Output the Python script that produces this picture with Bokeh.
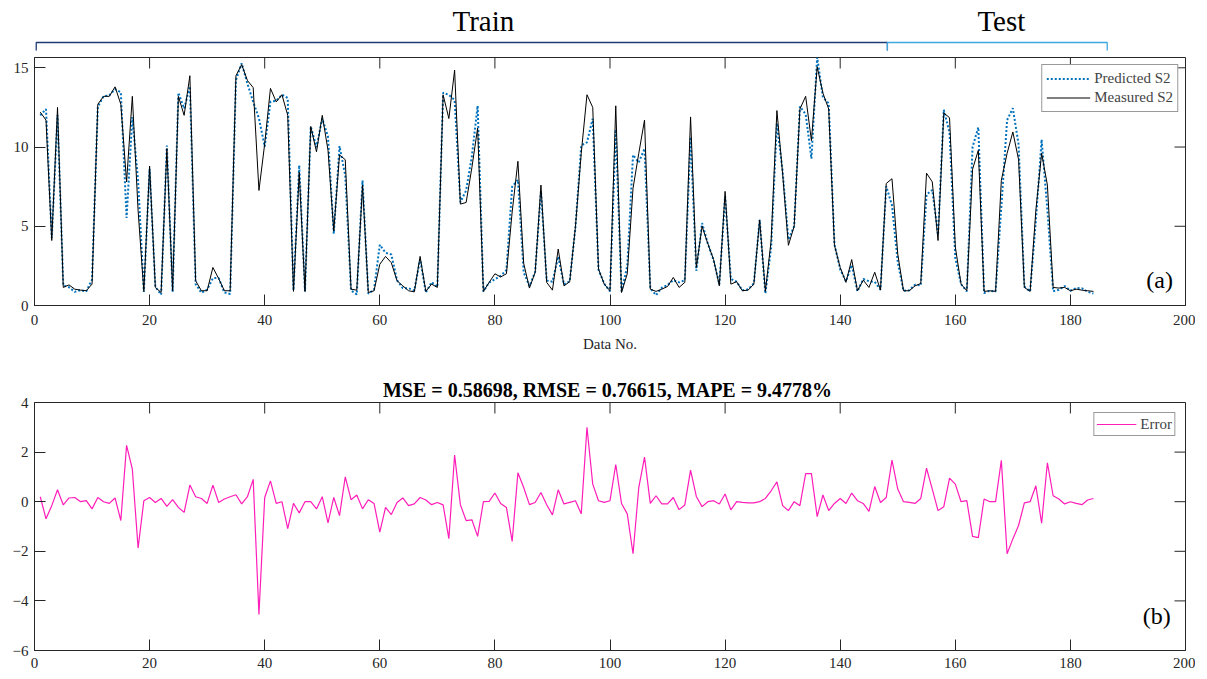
import math
from bokeh.plotting import figure
from bokeh.models import Range1d, FixedTicker, Label
from bokeh.layouts import column
from bokeh.embed import file_html
from bokeh.resources import INLINE
from bokeh.core.properties import value

# ---------------- data ----------------
data_no = list(range(1, 185))

measured_s2 = [
    12.2, 11.7, 4.1, 12.5, 1.14, 1.3, 1.03, 0.97, 0.93, 1.35,
    12.7, 13.2, 13.2, 13.8, 12.7, 7.8, 13.2, 6.0, 0.9, 8.8,
    1.14, 0.82, 9.9, 0.93, 13.2, 12.0, 14.5, 1.56, 0.93, 0.93,
    2.4, 1.7, 0.93, 0.93, 14.5, 15.2, 14.2, 13.75, 7.26, 10.2,
    13.7, 12.85, 13.3, 12.0, 0.89, 8.4, 0.89, 11.3, 9.7, 12.0,
    9.8, 4.7, 9.5, 9.2, 1.03, 0.97, 7.6, 0.82, 0.93, 2.6,
    3.1, 2.7, 1.56, 1.24, 0.93, 0.86, 3.1, 0.89, 1.35, 1.14,
    13.3, 11.8, 14.85, 6.4, 6.5, 8.7, 11.2, 0.89, 1.46, 2.0,
    1.8, 2.0, 5.9, 9.1, 2.66, 1.1, 2.1, 7.6, 1.46, 0.97,
    3.56, 1.24, 1.5, 5.0, 9.6, 13.3, 12.5, 2.3, 1.35, 0.93,
    12.6, 0.82, 2.0, 7.4, 9.6, 11.7, 1.03, 0.89, 1.03, 1.2,
    1.77, 1.14, 1.46, 11.9, 2.4, 5.0, 3.9, 2.9, 1.24, 7.2,
    1.35, 1.5, 0.93, 0.97, 1.35, 5.4, 0.89, 4.1, 12.3, 8.3,
    3.8, 5.0, 12.4, 13.2, 10.4, 15.06, 13.4, 12.4, 3.8, 2.4,
    1.46, 2.9, 0.93, 1.6, 1.14, 2.1, 0.97, 7.7, 8.0, 3.25,
    0.93, 0.93, 1.24, 1.39, 8.35, 7.8, 4.1, 12.15, 11.85, 3.7,
    1.35, 0.93, 8.6, 9.8, 0.89, 0.93, 0.89, 7.9, 9.6, 10.95,
    9.2, 1.14, 0.89, 6.0, 9.6, 7.6, 1.14, 1.1, 1.14, 0.93,
    1.03, 0.97, 0.93, 0.89,
]

predicted_s2 = [
    12.0, 12.39, 4.26, 12.02, 1.27, 1.15, 0.86, 0.97, 0.89, 1.64,
    12.53, 13.2, 13.27, 13.65, 13.46, 5.53, 11.89, 7.87, 0.86, 8.63,
    1.17, 0.69, 10.09, 0.85, 13.43, 12.43, 13.83, 1.36, 0.8, 1.0,
    1.73, 1.73, 0.82, 0.73, 14.22, 15.29, 14.0, 12.85, 11.81, 10.03,
    12.86, 12.92, 13.3, 13.09, 0.96, 8.85, 0.89, 11.3, 9.99, 11.8,
    10.65, 4.53, 10.06, 8.2, 0.95, 0.7, 7.89, 0.74, 1.0, 3.83,
    3.33, 3.22, 1.59, 1.09, 1.09, 0.95, 2.93, 0.82, 1.47, 1.17,
    13.43, 13.29, 12.97, 6.52, 7.26, 9.43, 12.6, 0.89, 1.45, 1.65,
    1.87, 2.23, 7.5, 7.93, 2.09, 1.22, 2.13, 7.23, 1.58, 1.5,
    3.08, 1.33, 1.53, 4.96, 10.09, 10.3, 11.79, 2.26, 1.38, 0.89,
    11.1, 0.89, 2.49, 9.5, 9.03, 9.9, 1.1, 0.65, 1.12, 1.29,
    1.6, 1.46, 1.59, 10.63, 2.19, 5.2, 3.9, 2.86, 1.33, 6.89,
    1.68, 1.5, 0.96, 1.02, 1.4, 5.4, 0.76, 3.66, 11.5, 8.46,
    4.16, 5.0, 12.56, 12.07, 9.27, 15.66, 13.13, 12.76, 3.87, 2.27,
    1.53, 2.55, 0.89, 1.67, 1.53, 1.49, 1.0, 7.53, 6.32, 2.74,
    0.93, 0.96, 1.31, 1.26, 7.0, 7.29, 4.46, 12.35, 10.9, 2.99,
    1.35, 0.89, 10.0, 11.25, 0.78, 0.93, 0.89, 6.23, 11.7, 12.45,
    10.15, 1.19, 0.89, 5.36, 10.47, 6.03, 0.9, 0.99, 1.23, 0.93,
    1.1, 1.09, 0.86, 0.76,
]

error = [
    0.2, -0.69, -0.16, 0.48, -0.13, 0.15, 0.17, 0, 0.04, -0.29,
    0.17, 0, -0.07, 0.15, -0.76, 2.27, 1.31, -1.87, 0.04, 0.17,
    -0.03, 0.13, -0.19, 0.08, -0.23, -0.43, 0.67, 0.2, 0.13, -0.07,
    0.67, -0.03, 0.11, 0.2, 0.28, -0.09, 0.2, 0.9, -4.55, 0.17,
    0.84, -0.07, 0, -1.09, -0.07, -0.45, 0, 0, -0.29, 0.2,
    -0.85, 0.17, -0.56, 1.0, 0.08, 0.27, -0.29, 0.08, -0.07, -1.23,
    -0.23, -0.52, -0.03, 0.15, -0.16, -0.09, 0.17, 0.07, -0.12, -0.03,
    -0.13, -1.49, 1.88, -0.12, -0.76, -0.73, -1.4, 0, 0.01, 0.35,
    -0.07, -0.23, -1.6, 1.17, 0.57, -0.12, -0.03, 0.37, -0.12, -0.53,
    0.48, -0.09, -0.03, 0.04, -0.49, 3.0, 0.71, 0.04, -0.03, 0.04,
    1.5, -0.07, -0.49, -2.1, 0.57, 1.8, -0.07, 0.24, -0.09, -0.09,
    0.17, -0.32, -0.13, 1.27, 0.21, -0.2, 0, 0.04, -0.09, 0.31,
    -0.33, 0, -0.03, -0.05, -0.05, 0, 0.13, 0.44, 0.8, -0.16,
    -0.36, 0, -0.16, 1.13, 1.13, -0.6, 0.27, -0.36, -0.07, 0.13,
    -0.07, 0.35, 0.04, -0.07, -0.39, 0.61, -0.03, 0.17, 1.68, 0.51,
    0, -0.03, -0.07, 0.13, 1.35, 0.51, -0.36, -0.2, 0.95, 0.71,
    0, 0.04, -1.4, -1.45, 0.11, 0, 0, 1.67, -2.1, -1.5,
    -0.95, -0.05, 0, 0.64, -0.87, 1.57, 0.24, 0.11, -0.09, 0,
    -0.07, -0.12, 0.07, 0.13,
]

x_ticks = [0, 20, 40, 60, 80, 100, 120, 140, 160, 180, 200]
y_ticks_top = [0, 5, 10, 15]
y_ticks_bottom = [-6, -4, -2, 0, 2, 4]
phase_names = ["Train", "Test"]
phase_start = [0.3, 148.2]
phase_end = [148.2, 186.4]
metrics_title = "MSE = 0.58698,  RMSE = 0.76615, MAPE = 9.4778%"

# ---------------- style ----------------
FONT = "Liberation Serif"
AXC = "#262626"
W = 1195
BL, BR = 34, 10
XMAX = 200
phase_colors = ["#1F3B73", "#3FA6DF"]


def style_axes(p, yticks, ymax, xstandoff):
    xax = p.below[0]
    yax = p.left[0]
    xax.ticker = FixedTicker(ticks=x_ticks)
    yax.ticker = FixedTicker(ticks=yticks)
    for ax in (xax, yax):
        ax.axis_line_color = AXC
        ax.axis_line_width = 1
        ax.major_tick_line_color = AXC
        ax.major_tick_in = 11
        ax.major_tick_out = 0
        ax.minor_tick_line_color = None
        ax.major_label_text_font = FONT
        ax.major_label_text_font_size = "15px"
        ax.major_label_text_color = AXC
    yax.major_label_standoff = 6
    xax.major_label_standoff = xstandoff
    # inward ticks on the top and right edges of the box
    p.ray(x=x_ticks, y=[ymax] * len(x_ticks), length=11, length_units="screen",
          angle=-math.pi / 2, line_color=AXC, line_width=1)
    p.ray(x=[XMAX] * len(yticks), y=yticks, length=11, length_units="screen",
          angle=math.pi, line_color=AXC, line_width=1)
    p.xgrid.visible = False
    p.ygrid.visible = False
    p.outline_line_color = AXC
    return xax, yax


# ---------------- header (Train / Test brackets) ----------------
pa = figure(width=W, height=57, x_range=Range1d(0, XMAX), y_range=Range1d(57, 0),
            x_axis_type=None, y_axis_type=None, toolbar_location=None,
            output_backend="svg", min_border_left=BL, min_border_right=BR,
            min_border_top=0, min_border_bottom=0)
pa.outline_line_color = None
pa.xgrid.visible = False
pa.ygrid.visible = False
for s, e, c in zip(phase_start, phase_end, phase_colors):
    pa.line([s, s, e, e], [50, 42, 42, 50], line_color=c, line_width=1.3)
label_x = [78, 168]
pa.text(x=label_x, y=[20, 20], text=phase_names, text_font=value(FONT),
        text_font_size="29px", text_align="center", text_baseline="middle",
        text_color="black")

# ---------------- top panel ----------------
Y1MAX = 15.65
p1 = figure(width=W, height=309, x_range=Range1d(0, XMAX), y_range=Range1d(0, Y1MAX),
            toolbar_location=None, output_backend="svg",
            min_border_left=BL, min_border_right=BR, min_border_top=0, min_border_bottom=61)
x1, y1 = style_axes(p1, y_ticks_top, Y1MAX, 9)
x1.axis_label = "Data No."
x1.axis_label_text_font = FONT
x1.axis_label_text_font_size = "15px"
x1.axis_label_text_font_style = "normal"
x1.axis_label_text_color = AXC
x1.axis_label_standoff = 8
p1.line(data_no, predicted_s2, line_color="#0072BD", line_width=2, line_dash="2 2",
        legend_label="Predicted S2")
p1.line(data_no, measured_s2, line_color="black", line_width=1, legend_label="Measured S2")
lg = p1.legend[0]
lg.location = "top_right"
lg.margin = 7
lg.padding = 4
lg.spacing = 0
lg.label_text_font = FONT
lg.label_text_font_size = "15px"
lg.label_height = 19
lg.glyph_height = 19
lg.glyph_width = 44
lg.label_standoff = 4
lg.border_line_color = "#333333"
lg.border_line_width = 1
p1.add_layout(Label(x=195.5, y=1.6, text="(a)", text_font=FONT, text_font_size="24px",
                    text_align="center", text_baseline="middle", text_color="black"))

# ---------------- bottom panel ----------------
p2 = figure(width=W, height=308, x_range=Range1d(0, XMAX), y_range=Range1d(-6, 4),
            toolbar_location=None, output_backend="svg",
            min_border_left=BL, min_border_right=BR, min_border_top=36, min_border_bottom=24)
style_axes(p2, y_ticks_bottom, 4, 7)
p2.title.text = metrics_title
p2.title.text_font = FONT
p2.title.text_font_size = "20px"
p2.title.text_font_style = "bold"
p2.title.align = "center"
p2.title.standoff = 3
p2.title.text_color = "black"
p2.line(data_no, error, line_color="#FF1DB9", line_width=1.2, legend_label="Error")
lg2 = p2.legend[0]
lg2.location = "top_right"
lg2.margin = 10
lg2.padding = 2
lg2.spacing = 0
lg2.label_text_font = FONT
lg2.label_text_font_size = "15px"
lg2.label_height = 18
lg2.glyph_height = 18
lg2.glyph_width = 40
lg2.label_standoff = 4
lg2.border_line_color = "#333333"
lg2.border_line_width = 1
p2.add_layout(Label(x=195, y=-4.6, text="(b)", text_font=FONT, text_font_size="24px",
                    text_align="center", text_baseline="middle", text_color="black"))

layout = column(pa, p1, p2)
open("out.html", "w").write(file_html(layout, INLINE))
